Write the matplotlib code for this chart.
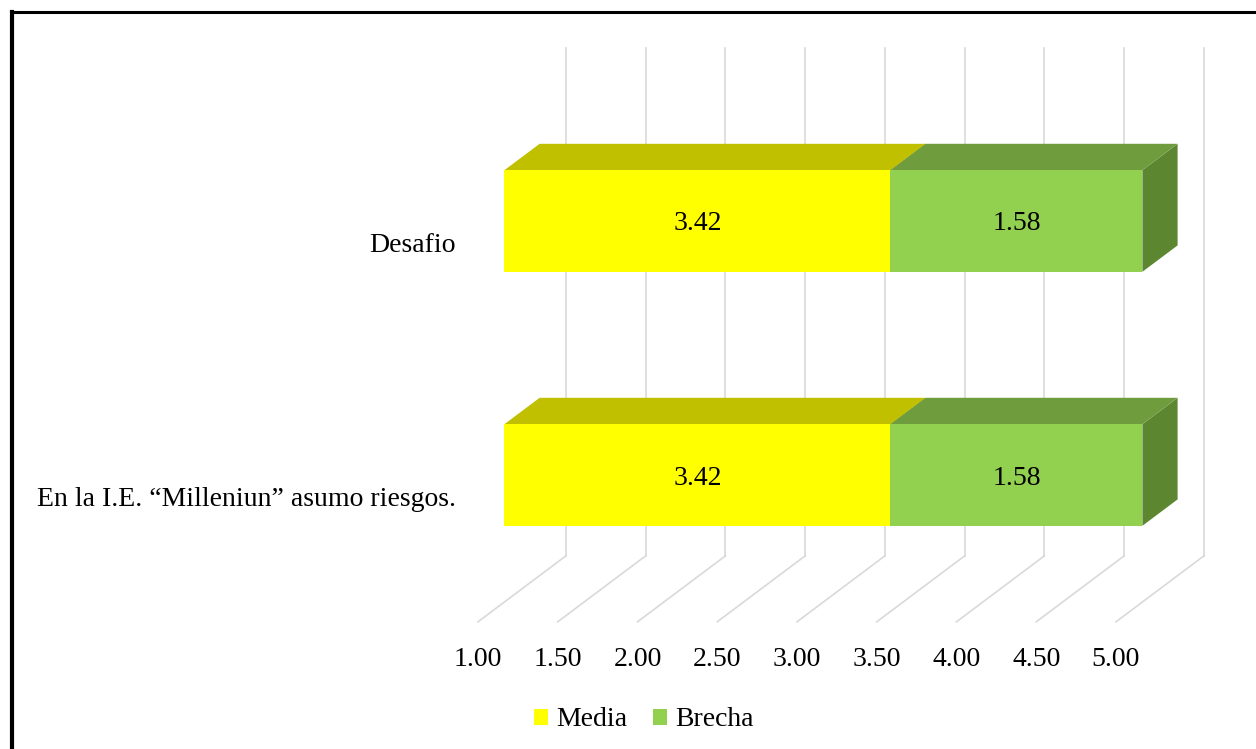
import matplotlib.pyplot as plt
from matplotlib.patches import Polygon, Patch
from matplotlib.lines import Line2D

plt.rcParams['font.family'] = ['Liberation Serif', 'DejaVu Serif']

# data (bottom to top)
categories = ['En la I.E. \u201cMilleniun\u201d asumo riesgos.', 'Desafio']
media = [3.42, 3.42]
brecha = [1.58, 1.58]
ticks = [1.0, 1.5, 2.0, 2.5, 3.0, 3.5, 4.0, 4.5, 5.0]
tick_labels = ['1.00', '1.50', '2.00', '2.50', '3.00', '3.50', '4.00', '4.50', '5.00']
axis_min = 1.0

# colours: front, top, side
yellow = ('#FFFF00', '#C0C000', '#A0A000')
green = ('#92D050', '#6F9C3C', '#5D8631')
grid_col = '#D9D9D9'
fs = 20

W, H = 1256, 749
fig = plt.figure(figsize=(W / 100, H / 100), dpi=100)
ax = fig.add_axes([0, 0, 1, 1])
ax.axis('off')

# layout of the fake 3d box (pixel anchors -> data limits)
x0_px, px_per_unit = 478, 159.5
c0_px, px_per_cat = 494.8, 254
ax.set_xlim(axis_min - x0_px / px_per_unit, axis_min + (W - x0_px) / px_per_unit)
ax.set_ylim((c0_px - H) / px_per_cat, c0_px / px_per_cat)
DX = 88 / px_per_unit   # depth shift in value units
DY = 66 / px_per_cat    # depth shift in category units
d_front, d_back = 0.3, 0.7
half_h = 0.2
c_lo, c_hi = -0.5, len(categories) - 0.5
nudge = 3 / px_per_cat  # text sits a touch lower than the box centre

# back wall and floor gridlines
for v in ticks:
    ax.plot([v + DX, v + DX], [c_lo + DY, c_hi + DY], color=grid_col, lw=1.2, zorder=1)
    ax.plot([v, v + DX], [c_lo, c_lo + DY], color=grid_col, lw=1.2, zorder=1)


def box(left, right, c, cols):
    fx0, fx1 = left + d_front * DX, right + d_front * DX
    fy0, fy1 = c - half_h + d_front * DY, c + half_h + d_front * DY
    ddx, ddy = (d_back - d_front) * DX, (d_back - d_front) * DY
    front = [(fx0, fy0), (fx1, fy0), (fx1, fy1), (fx0, fy1)]
    top = [(fx0, fy1), (fx1, fy1), (fx1 + ddx, fy1 + ddy), (fx0 + ddx, fy1 + ddy)]
    side = [(fx1, fy0), (fx1 + ddx, fy0 + ddy), (fx1 + ddx, fy1 + ddy), (fx1, fy1)]
    for pts, col in zip([side, top, front], [cols[2], cols[1], cols[0]]):
        ax.add_patch(Polygon(pts, closed=True, facecolor=col, edgecolor='none', zorder=3))
    return (fx0 + fx1) / 2, (fy0 + fy1) / 2


for i, cat in enumerate(categories):
    mx, my = box(axis_min, media[i], i, yellow)
    ax.text(mx, my - nudge, f'{media[i]:.2f}', ha='center', va='center', fontsize=fs, zorder=5)
    bx, by = box(media[i], media[i] + brecha[i], i, green)
    ax.text(bx, by - nudge, f'{brecha[i]:.2f}', ha='center', va='center', fontsize=fs, zorder=5)
    ax.text(axis_min - 22 / px_per_unit, i - 0.02, cat, ha='right', va='center', fontsize=fs)

for v, lab in zip(ticks, tick_labels):
    ax.text(v, c_lo - 0.135 - nudge, lab, ha='center', va='center', fontsize=fs)

handles = [Patch(facecolor=yellow[0], label='Media'), Patch(facecolor=green[0], label='Brecha')]
fig.legend(handles=handles, loc='center', bbox_to_anchor=(644 / W, 1 - 720 / H), ncol=2,
           frameon=False, fontsize=fs, handlelength=0.5, handleheight=0.5,
           handletextpad=0.3, columnspacing=0.9)

# outer frame (left and top edges visible)
fig.add_artist(Line2D([12 / W, 12 / W], [0, 1 - 12 / H], color='black', lw=3, transform=fig.transFigure))
fig.add_artist(Line2D([12 / W, 1], [1 - 12 / H, 1 - 12 / H], color='black', lw=2.2, transform=fig.transFigure))

fig.savefig('out.png', dpi=100)
